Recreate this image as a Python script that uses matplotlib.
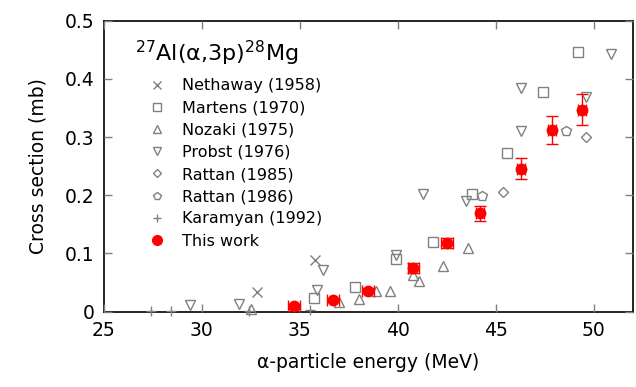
import numpy as np
import matplotlib.pyplot as plt
from matplotlib.lines import Line2D

# Data (energy in MeV, cross section in mb)
nethaway_e = [32.8, 35.8]
nethaway_s = [0.033, 0.088]

martens_e = [35.7, 37.8, 39.9, 41.8, 43.8, 45.6, 47.4, 49.2]
martens_s = [0.023, 0.043, 0.090, 0.120, 0.202, 0.273, 0.377, 0.447]

nozaki_e = [32.5, 37.0, 38.0, 38.9, 39.6, 40.8, 41.1, 42.3, 43.6]
nozaki_s = [0.004, 0.017, 0.021, 0.036, 0.036, 0.063, 0.052, 0.078, 0.109]

probst_e = [29.4, 31.9, 35.9, 36.2, 39.9, 41.3, 43.5, 46.3, 46.3, 49.6, 50.9]
probst_s = [0.012, 0.013, 0.037, 0.072, 0.097, 0.203, 0.191, 0.311, 0.384, 0.368, 0.443]

rattan85_e = [45.4, 49.6]
rattan85_s = [0.206, 0.300]

rattan86_e = [44.3, 48.6]
rattan86_s = [0.199, 0.310]

karamyan_e = [27.4, 28.4, 32.4, 35.5]
karamyan_s = [0.002, 0.002, 0.001, 0.003]

work_e = [34.7, 36.7, 38.5, 40.8, 42.5, 44.2, 46.3, 47.9, 49.4]
work_s = [0.009, 0.020, 0.036, 0.075, 0.118, 0.169, 0.246, 0.312, 0.347]
work_ds = [0.004, 0.004, 0.004, 0.008, 0.009, 0.013, 0.018, 0.024, 0.027]
work_de = [0.3, 0.3, 0.3, 0.3, 0.3, 0.2, 0.2, 0.2, 0.2]

gray = '#808080'

fig = plt.figure(figsize=(6.36, 3.87), dpi=100)
ax = fig.add_axes([0.1635, 0.1946, 0.8313, 0.752])

ms = 7
common = dict(linestyle='none', color=gray, markerfacecolor='none', mew=1.0, clip_on=False)
ax.plot(nethaway_e, nethaway_s, marker='x', label='Nethaway (1958)', markersize=ms, **common)
ax.plot(martens_e, martens_s, marker='s', label='Martens (1970)', markersize=ms, **common)
ax.plot(nozaki_e, nozaki_s, marker='^', label='Nozaki (1975)', markersize=ms, **common)
ax.plot(probst_e, probst_s, marker='v', label='Probst (1976)', markersize=ms, **common)
ax.plot(rattan85_e, rattan85_s, marker='D', label='Rattan (1985)', markersize=5.5, **common)
ax.plot(rattan86_e, rattan86_s, marker='p', label='Rattan (1986)', markersize=ms, **common)
ax.plot(karamyan_e, karamyan_s, marker='+', label='Karamyan (1992)', markersize=ms, **common)
ax.errorbar(work_e, work_s, yerr=work_ds, xerr=work_de, fmt='o', color='red',
            markersize=7.5, elinewidth=1.0, capsize=4, capthick=1.0,
            ecolor='red', clip_on=False)

ax.set_xlim(25, 52)
ax.set_ylim(0, 0.5)
ax.set_xticks([25, 30, 35, 40, 45, 50])
ax.set_yticks([0, 0.1, 0.2, 0.3, 0.4, 0.5])
ax.set_yticklabels(['0', '0.1', '0.2', '0.3', '0.4', '0.5'])
ax.tick_params(direction='in', length=6, width=1.0, color=gray,
               top=True, right=True, labelsize=13.5, pad=7)
for s in ax.spines.values():
    s.set_linewidth(1.2)
    s.set_zorder(0.5)

ax.set_xlabel('α-particle energy (MeV)', fontsize=13.5, labelpad=9)
ax.set_ylabel('Cross section (mb)', fontsize=13.5, labelpad=12)

ax.text(0.058, 0.889, r'$^{27}$Al(α,3p)$^{28}$Mg', transform=ax.transAxes,
        fontsize=16, va='center')

handles, labels = ax.get_legend_handles_labels()
handles.append(Line2D([], [], linestyle='none', marker='o', color='red', markersize=7))
labels.append('This work')
leg = ax.legend(handles, labels, loc='upper left', bbox_to_anchor=(0.086, 0.802),
                frameon=False, fontsize=11.5, labelspacing=0.45, handlelength=1.0,
                handletextpad=1.05, borderaxespad=0, borderpad=0)
for h in leg.legend_handles[:7]:
    h.set_markersize(6)
leg.legend_handles[4].set_markersize(4.5)

fig.savefig('out.png', dpi=100)
